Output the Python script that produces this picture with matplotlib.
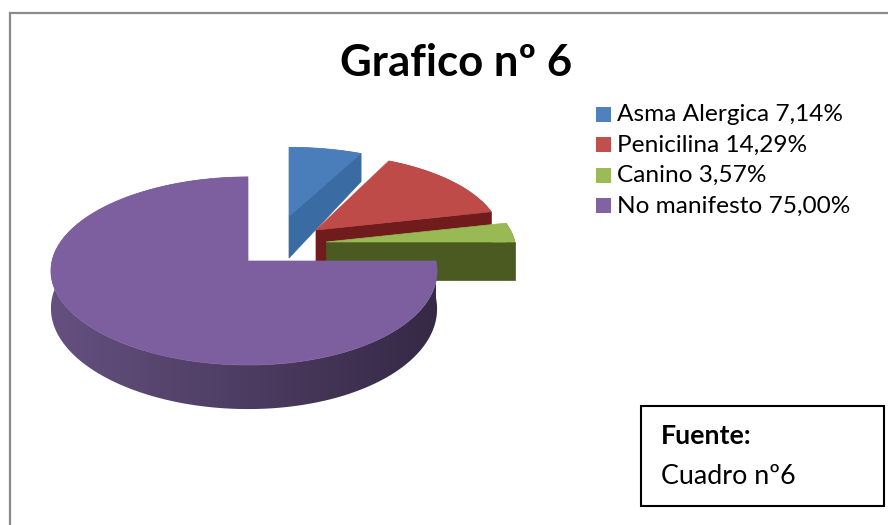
#!/usr/bin/env python3
"""Grafico n 6: exploded 3D style pie, redrawn with plain matplotlib polygons."""

import numpy as np
import matplotlib

matplotlib.use("Agg")
import matplotlib.pyplot as plt
from matplotlib.colors import LinearSegmentedColormap
from matplotlib.patches import Polygon, Rectangle

plt.rcParams["font.family"] = ["Lato", "DejaVu Sans"]

labels = ["Asma Alergica", "Penicilina", "Canino", "No manifesto"]
percents = [7.14, 14.29, 3.57, 75.00]
legend_values = ["7,14%", "14,29%", "3,57%", "75,00%"]

top_colors = ["#4a7ebb", "#be4b48", "#98b954", "#7d5fa0"]
legend_colors = ["#4f81bd", "#c0504d", "#9bbb59", "#8064a2"]
cut_colors = ["#3a6ba3", "#701c1c", "#4a5a20", "#4a3a66"]
side_left = ["#3a6ba3", "#701c1c", "#4a5a20", "#65507f"]
side_right = ["#3a6ba3", "#701c1c", "#4a5a20", "#352945"]

# apex x, apex y, x radius, x skew, y radius, depth, depth falloff with distance
geometry = [
    (289, 216, 182, 0, 76, 42, 0.55),
    (316, 230, 184, 0, 84, 36, 0.30),
    (326, 242, 189, 0, 87, 38, 0.05),
    (248, 261, 192, 4, 93, 37, 0.16),
]
PERSPECTIVE = 0.106


def project(geo, angle):
    ax_, ay_, sx, skew, sy, depth, fall = geo
    u = np.cos(angle)
    v = np.sin(angle)
    scale = 1.0 + PERSPECTIVE * v
    x = ax_ + u * (sx - skew * u) / scale
    y = ay_ - sy * v / scale
    return x, y, depth / (1.0 + fall * v)


def draw_wedge(ax, geo, start, end, index):
    angles = np.linspace(start, end, 240)
    x, y, d = project(geo, angles)
    apex_x, apex_y = geo[0], geo[1]
    order = index + 2

    # outer rim, one gradient clipped to the rim outline
    rim = list(zip(x, y)) + list(zip(x[::-1], (y + d)[::-1]))
    clip = Polygon(rim, closed=True, fc="none", ec="none", transform=ax.transData)
    ax.add_patch(clip)
    cmap = LinearSegmentedColormap.from_list("rim", [side_left[index], side_right[index]])
    ybot = (y + d).max() + 1
    ytop = y.min() - 1
    image = ax.imshow(
        np.linspace(0, 1, 256).reshape(1, -1),
        cmap=cmap,
        extent=(x.min(), x.max(), ybot, ytop),
        aspect="auto",
        interpolation="bilinear",
        zorder=order,
    )
    image.set_clip_path(clip)

    # cut face on the clockwise end of the slice
    apex_depth = geo[5]
    if index < 3:
        cut = [(apex_x, apex_y), (x[-1], y[-1]), (x[-1], y[-1] + d[-1]), (apex_x, apex_y + apex_depth)]
        ax.add_patch(Polygon(cut, closed=True, fc=cut_colors[index], ec=cut_colors[index], lw=0.5, zorder=order))

    top = [(apex_x, apex_y)] + list(zip(x, y))
    ax.add_patch(Polygon(top, closed=True, fc=top_colors[index], ec=top_colors[index], lw=0.5, zorder=order + 0.5))


def main():
    fig = plt.figure(figsize=(8.88, 5.25), dpi=100)
    ax = fig.add_axes([0, 0, 1, 1])
    ax.axis("off")

    # chart frame
    ax.plot([9.5, 9.5, 888], [525, 13, 13], color="#8a8a8a", lw=1.6, solid_joinstyle="miter", zorder=1)

    fracs = np.array(percents) / sum(percents)
    edges = np.pi / 2 - 2 * np.pi * np.concatenate([[0], np.cumsum(fracs)])
    for i in range(len(percents)):
        draw_wedge(ax, geometry[i], edges[i], edges[i + 1], i)

    ax.text(456, 63.5, "Grafico nº 6", fontsize=31.5, fontweight="bold", color="black", ha="center", va="center", zorder=10)

    for i, (name, value) in enumerate(zip(labels, legend_values)):
        y = 114.5 + 30.6 * i
        ax.add_patch(Rectangle((596, y - 8), 15, 15, fc=legend_colors[i], ec="none", zorder=10))
        ax.text(617, y, f"{name} {value}", fontsize=17.6, color="black", va="center", ha="left", zorder=10)

    ax.add_patch(Rectangle((640.5, 406), 243.5, 99.5, fc="white", ec="black", lw=1.5, zorder=10))
    ax.text(661, 435.5, "Fuente:", fontsize=19.3, fontweight="bold", color="black", va="center", ha="left", zorder=11)
    ax.text(661, 476, "Cuadro nº6", fontsize=19.4, color="black", va="center", ha="left", zorder=11)

    ax.set_xlim(0, 888)
    ax.set_ylim(525, 0)
    fig.savefig("out.png", dpi=100, facecolor="white")


if __name__ == "__main__":
    main()
